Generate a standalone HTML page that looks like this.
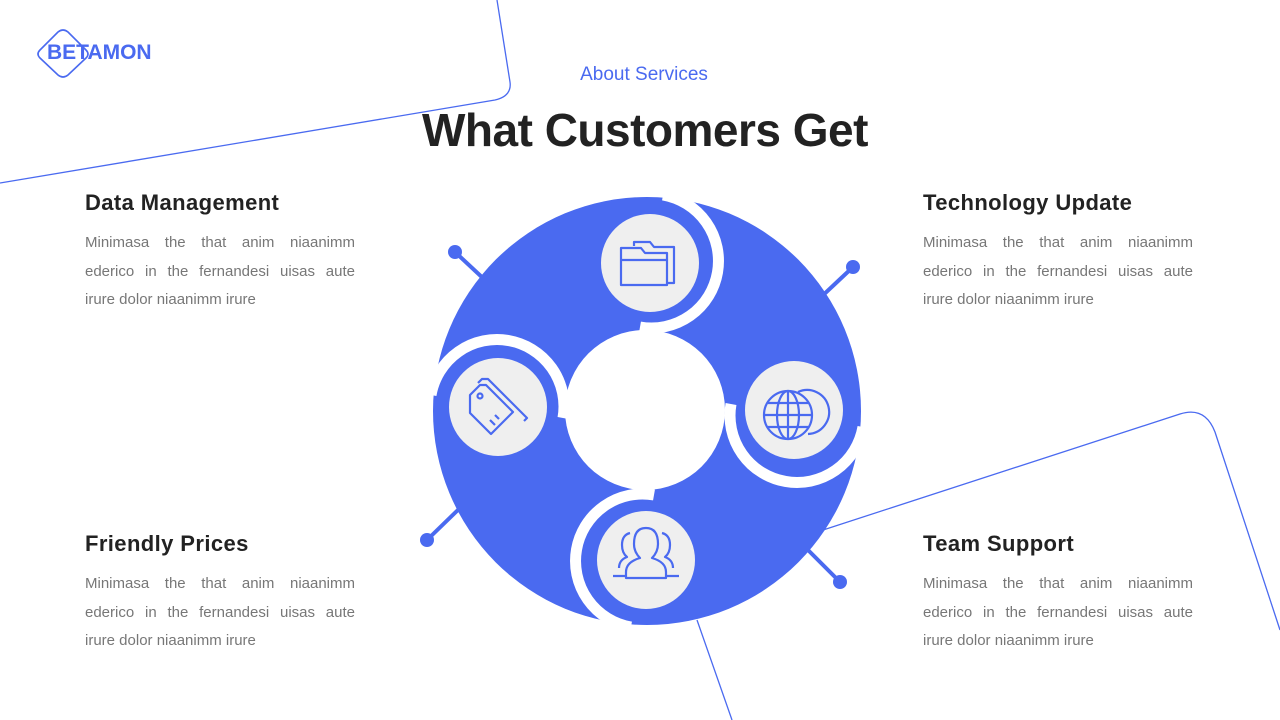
<!DOCTYPE html>
<html><head><meta charset="utf-8"><style>
body{margin:0;width:1280px;height:720px;background:#fff;position:relative;overflow:hidden;font-family:"Liberation Sans",sans-serif}
.t{position:absolute;text-align:center;width:1280px;left:0}
.h{position:absolute;font-weight:bold;font-size:22px;color:#222;letter-spacing:0.4px}
.p{position:absolute;width:270px;font-size:15px;line-height:28.5px;color:#777;text-align:justify;text-align-last:left}
</style></head><body>
<svg width="1280" height="720" style="position:absolute;left:0;top:0">
<g fill="none" stroke="#4a6af0" stroke-width="1.3">
<path d="M497 0 L510 82 Q512 96 495 100 L0 183"/>
<path d="M820 531 L1180 414 Q1205 406 1215 432 L1280 630"/>
<path d="M697 620 L732 720"/>
<path d="M58 32 Q63 28 68 32 L86 50 Q90 54 86 58 L68 75 Q63 79 58 75 L40 58 Q36 54 40 50 Z" stroke-width="1.6"/>
</g>
<g stroke="#4a6af0" stroke-width="4" fill="#4a6af0">
<line x1="455" y1="252" x2="485" y2="280"/><circle cx="455" cy="252" r="7" stroke="none"/>
<line x1="853" y1="267" x2="820" y2="298"/><circle cx="853" cy="267" r="7" stroke="none"/>
<line x1="427" y1="540" x2="460" y2="508"/><circle cx="427" cy="540" r="7" stroke="none"/>
<line x1="840" y1="582" x2="805" y2="547"/><circle cx="840" cy="582" r="7" stroke="none"/>
</g>
<circle cx="647" cy="411" r="214" fill="#4a6af0"/>
<g fill="none" stroke="#fff" stroke-width="11">
<g id="a"><path d="M663 195 A64 64 0 0 1 640 327"/></g>
<use href="#a" transform="rotate(90 647 411)"/>
<use href="#a" transform="rotate(180 647 411)"/>
<use href="#a" transform="rotate(270 647 411)"/>
</g>
<circle cx="645" cy="410" r="80" fill="#fff"/>
<g fill="#efefef">
<circle cx="650" cy="263" r="49"/><circle cx="794" cy="410" r="49"/>
<circle cx="646" cy="560" r="49"/><circle cx="498" cy="407" r="49"/>
</g>
<g fill="none" stroke="#4a6af0" stroke-width="2.2" stroke-linejoin="round">
<path d="M621 248 h20 l4 5 h22 v32 h-46 z M621 260 h46"/><path d="M634 246 v-4 h16 l4 5 h20 v36 h-6"/>
<circle cx="788" cy="415" r="24"/><ellipse cx="788" cy="415" rx="11" ry="24"/><path d="M764 415h48 M788 391v48 M768 403h40 M768 427h40"/>
<path d="M798 392 A22 22 0 1 1 808 434"/>
<path d="M470 395 l10 -10 h6 l27 27 -22 22 -21 -21 z"/><circle cx="480" cy="396" r="2.5"/><path d="M478 383 l4 -4 h6 l39 39 -3 3 M490 420 l5 5 M495 415 l4 4"/>
<path d="M614 578 v-6 q0 -10 14 -14 q-6 -6 -6 -14 q0 -16 12 -16 q12 0 12 16 q0 8 -6 14 q14 4 14 14 v6 z" transform="translate(12,0)"/>
<path d="M619 568 q0 -8 8 -11 q-5 -4 -5 -12 q0 -10 8 -12 M673 568 q0 -8 -8 -11 q5 -4 5 -12 q0 -10 -8 -12"/>
<path d="M613 576 h13 M679 576 h-13"/>
</g>
</svg>
<div style="position:absolute;left:47px;top:41px;font-weight:bold;font-size:21px;color:#4a6af0">BETAMON</div>
<div class="t" style="top:64px;font-size:19px;color:#4a6af0;left:4px">About Services</div>
<div class="t" style="top:103px;font-size:46px;font-weight:bold;color:#222;left:5px;letter-spacing:-0.5px">What Customers Get</div>
<div class="h" style="left:85px;top:190px">Data Management</div>
<div class="p" style="left:85px;top:229px">Minimasa the that anim niaanimm ederico in the fernandesi uisas aute irure dolor niaanimm irure</div>
<div class="h" style="left:923px;top:190px">Technology Update</div>
<div class="p" style="left:923px;top:229px">Minimasa the that anim niaanimm ederico in the fernandesi uisas aute irure dolor niaanimm irure</div>
<div class="h" style="left:85px;top:531px">Friendly Prices</div>
<div class="p" style="left:85px;top:570px">Minimasa the that anim niaanimm ederico in the fernandesi uisas aute irure dolor niaanimm irure</div>
<div class="h" style="left:923px;top:531px">Team Support</div>
<div class="p" style="left:923px;top:570px">Minimasa the that anim niaanimm ederico in the fernandesi uisas aute irure dolor niaanimm irure</div>
</body></html>
